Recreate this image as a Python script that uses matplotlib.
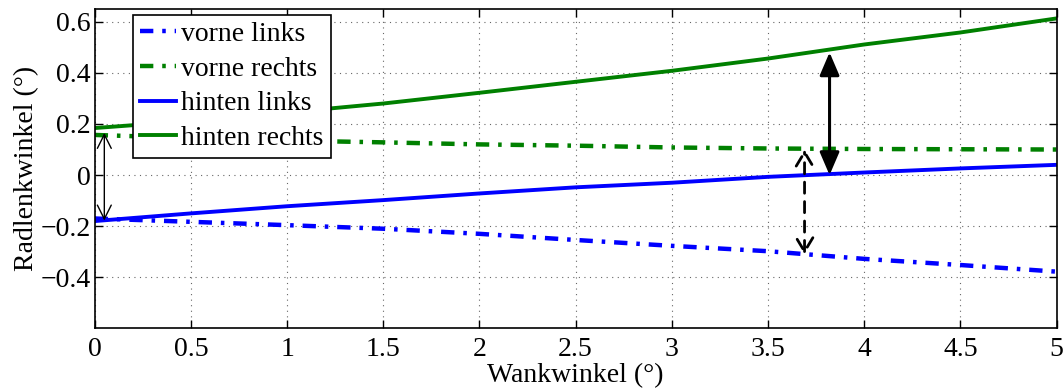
import numpy as np
import matplotlib
matplotlib.use('Agg')
import matplotlib.pyplot as plt
from matplotlib.ticker import FuncFormatter

# Wankwinkel (deg)
wank = [0, 0.5, 1, 1.5, 2, 2.5, 3, 3.5, 4, 4.5, 5]

# Radlenkwinkel (deg)
vorne_links = [-0.170, -0.183, -0.196, -0.210, -0.230, -0.254, -0.277, -0.298, -0.328, -0.352, -0.378]
vorne_rechts = [0.157, 0.145, 0.135, 0.128, 0.120, 0.115, 0.108, 0.104, 0.102, 0.101, 0.100]
hinten_links = [-0.180, -0.150, -0.122, -0.098, -0.072, -0.048, -0.030, -0.007, 0.010, 0.026, 0.040]
hinten_rechts = [0.184, 0.212, 0.245, 0.280, 0.322, 0.365, 0.408, 0.456, 0.511, 0.558, 0.613]

# Pfeile: (x, y_start, y_ende)
pfeil_duenn = (0.05, 0.165, -0.178)
pfeil_dick = (3.82, 0.48, 0.0)
pfeil_gestrichelt = (3.69, 0.100, -0.31)

plt.rcParams['font.family'] = ['Liberation Serif', 'DejaVu Serif']
plt.rcParams['font.size'] = 20

fig, ax = plt.subplots(figsize=(10.64, 3.9), dpi=100)
fig.subplots_adjust(left=0.089, right=0.993, top=0.977, bottom=0.158)

ax.plot(wank, vorne_links, color='#0000ff', lw=3.2, ls=(0, (3, 2, 0.8, 2)), label='vorne links')
ax.plot(wank, vorne_rechts, color='#008000', lw=3.2, ls=(0, (3, 2, 0.8, 2)), label='vorne rechts')
ax.plot(wank, hinten_links, color='#0000ff', lw=2.8, label='hinten links')
ax.plot(wank, hinten_rechts, color='#008000', lw=2.8, label='hinten rechts')

# Pfeile
x, y0, y1 = pfeil_duenn
ax.annotate('', xy=(x, y0), xytext=(x, y1),
            arrowprops=dict(arrowstyle='<->, head_length=0.5, head_width=0.25', color='black', lw=1,
                            shrinkA=0, shrinkB=0))
x, y0, y1 = pfeil_dick
ax.annotate('', xy=(x, y0), xytext=(x, y1),
            arrowprops=dict(arrowstyle='<|-|>, head_length=0.7, head_width=0.3', color='black', lw=2.2,
                            shrinkA=0, shrinkB=0))
x, y0, y1 = pfeil_gestrichelt
ax.annotate('', xy=(x, y0), xytext=(x, y1),
            arrowprops=dict(arrowstyle='<->, head_length=0.5, head_width=0.3', color='black', lw=2,
                            ls=(0, (4, 3)), shrinkA=0, shrinkB=0))

ax.set_xlim(0, 5)
ax.set_ylim(-0.6, 0.65)
ax.set_xticks(np.arange(0, 5.01, 0.5))
ax.set_yticks([-0.4, -0.2, 0, 0.2, 0.4, 0.6])
fmt = FuncFormatter(lambda v, p: ('%g' % v).replace('-', '\u2212'))
ax.xaxis.set_major_formatter(fmt)
ax.yaxis.set_major_formatter(fmt)

ax.tick_params(direction='in', top=True, right=True, length=6, width=1, labelsize=20)
ax.tick_params(axis='y', pad=3)
ax.tick_params(axis='x', pad=6)
ax.grid(True, ls=(0, (1, 4)), color='#666666', lw=0.8)
for s in ax.spines.values():
    s.set_linewidth(1.2)

ax.set_xlabel('Wankwinkel (°)', fontsize=20, labelpad=1)
ax.set_ylabel('Radlenkwinkel (°)', fontsize=20, labelpad=1)

leg = ax.legend(loc='upper left', bbox_to_anchor=(0.0395, 0.982), fontsize=20, frameon=True, fancybox=False,
                edgecolor='black', framealpha=1, handlelength=1.3, handletextpad=0.2,
                borderpad=0.25, labelspacing=0.33, borderaxespad=0)
leg.get_frame().set_linewidth(1.2)

plt.savefig('out.png', dpi=100)
